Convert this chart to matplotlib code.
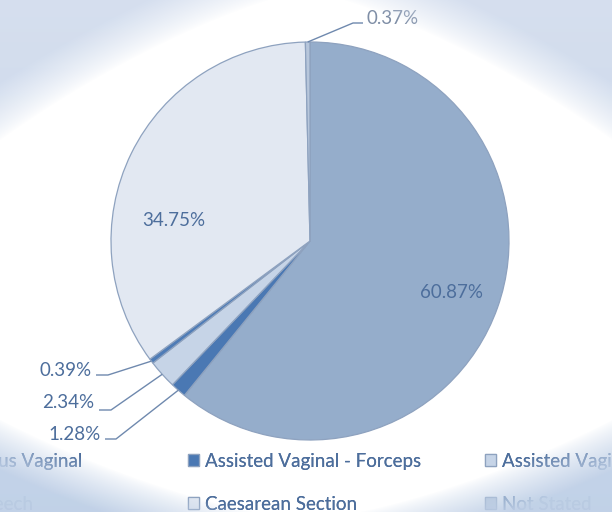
import numpy as np
import matplotlib
matplotlib.use("Agg")
import matplotlib.pyplot as plt

plt.rcParams['font.family'] = ['Lato', 'DejaVu Sans']

# delivery method shares (%)
categories = ['Spontaneous Vaginal', 'Assisted Vaginal - Forceps',
              'Assisted Vaginal - Vacuum', 'Vaginal Breech',
              'Caesarean Section', 'Not Stated']
shares = [60.87, 1.28, 2.34, 0.39, 34.75, 0.37]
slice_colors = ['#95adcb', '#4a78b3', '#c6d4e7', '#4f7cb6', '#e2e8f2', '#b7c6db']

W, H = 612, 512
CX, CY, R = 310, 241, 199   # pie centre / radius in pixels


def px(x, y):
    # pixel position (from top-left) -> pie data units
    return (x - CX) / R, (CY - y) / R


fig = plt.figure(figsize=(W / 100, H / 100), dpi=100)
fig.patch.set_facecolor('white')
ax = fig.add_axes([0, 0, 1, 1])
wedges, _ = ax.pie(shares, colors=slice_colors, startangle=90, counterclock=False,
                   radius=1, wedgeprops=dict(edgecolor='#8ea2bf', linewidth=0.9))
ax.set_xlim(-CX / R, (W - CX) / R)
ax.set_ylim(-(H - CY) / R, CY / R)
ax.set_aspect('equal')
ax.axis('off')

lab_col = '#4d6e9c'
line_col = '#6f89ae'
fs = 13.5

# label layout: text anchor (px), alignment, leader elbow + end (px) or None
label_layout = [
    ((451, 292), 'center', None),
    ((101, 434), 'right', [(116, 439), (105, 439)]),
    ((94, 402), 'right', [(111, 410), (99, 410)]),
    ((92, 370), 'right', [(108, 375), (96, 375)]),
    ((174, 221), 'center', None),
    ((366, 18), 'left', [(353, 23), (363, 23)]),
]

for w, val, (tpos, ha, leader) in zip(wedges, shares, label_layout):
    tx, ty = px(*tpos)
    c = '#7f8ea6' if val == shares[-1] else lab_col
    ax.text(tx, ty, f'{val:.2f}%', ha=ha, va='center', fontsize=fs, color=c)
    if leader:
        mid = np.deg2rad((w.theta1 + w.theta2) / 2)
        xs = [np.cos(mid)] + [px(*p)[0] for p in leader]
        ys = [np.sin(mid)] + [px(*p)[1] for p in leader]
        ax.plot(xs, ys, color=line_col, lw=1.0, solid_capstyle='butt')

# legend laid out in three columns of two rows
leg_kw = dict(bbox_transform=fig.transFigure, frameon=False, borderpad=0,
              borderaxespad=0, handlelength=0.6, handleheight=0.6,
              handletextpad=0.3, labelspacing=1.38, fontsize=fs,
              labelcolor=lab_col)
cols = [([0, 3], 'upper right', 82), ([1, 4], 'upper left', 188), ([2, 5], 'upper left', 485)]
for idx, loc, x0 in cols:
    leg = fig.legend([wedges[i] for i in idx], [categories[i] for i in idx],
                     loc=loc, bbox_to_anchor=(x0 / W, 1 - 453 / H), **leg_kw)
    fig.add_artist(leg)

# soft blue frame around a white glow (rounded-diamond shape, taller at the top)
yy, xx = np.mgrid[0:H, 0:W]
upper = yy < 270
a = np.where(upper, 470.0, 530.0)
b = np.where(upper, 300.0, 268.0)
p = np.where(upper, 1.3, 1.4)
d = (np.abs((xx - 306) / a) ** p + np.abs((yy - 270) / b) ** p) ** (1 / p)
alpha = np.clip((d - 0.93) / 0.16, 0, 1) ** 0.8 * 0.96
t = (yy / H)[..., None]
top = np.array([0.83, 0.87, 0.935])
bot = np.array([0.75, 0.815, 0.905])
rgba = np.zeros((H, W, 4))
rgba[..., :3] = top * (1 - t) + bot * t
rgba[..., 3] = alpha
ov = fig.add_axes([0, 0, 1, 1], zorder=10)
ov.imshow(rgba, extent=[0, W, H, 0], aspect='auto', interpolation='bilinear')
ov.axis('off')

fig.savefig('out.png', dpi=100)
